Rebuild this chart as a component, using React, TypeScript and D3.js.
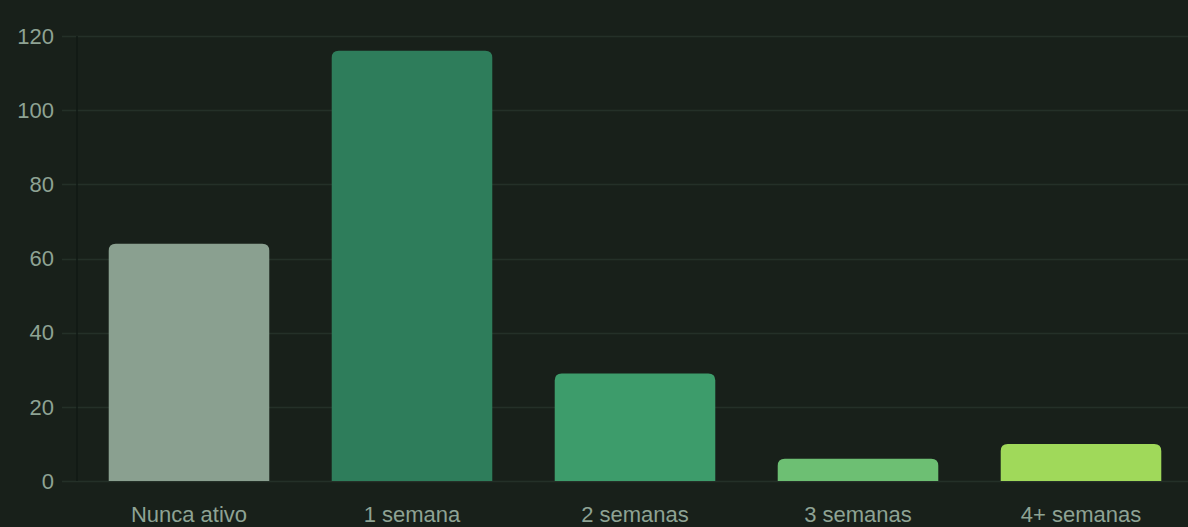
import React from "react";
import * as d3 from "d3";

const width = 1188;
const height = 527;
const margin = { top: 36, left: 77, bottom: 46 };

const categories = ["Nunca ativo", "1 semana", "2 semanas", "3 semanas", "4+ semanas"];
const counts = [64, 116, 29, 6, 10];
const barColors = ["#8aa090", "#2e7d5b", "#3d9c6b", "#6dbf73", "#a0d95a"];
const yTicks = [0, 20, 40, 60, 80, 100, 120];

const bg = "#18201a";
const textColor = "#8ea394";
const gridColor = "#243028";

// top-rounded bar path
function barPath(x: number, y: number, w: number, h: number, r: number) {
  const rr = Math.min(r, h, w / 2);
  return `M${x},${y + h}V${y + rr}Q${x},${y} ${x + rr},${y}H${x + w - rr}Q${x + w},${y} ${x + w},${y + rr}V${y + h}Z`;
}

export default function App() {
  const yScale = d3
    .scaleLinear()
    .domain([0, 120])
    .range([height - margin.bottom, margin.top]);

  const xScale = d3
    .scaleBand()
    .domain(categories)
    .range([margin.left + 0.5, 1192.5])
    .paddingInner(0.28)
    .paddingOuter(0.14);

  const y0 = yScale(0);

  return (
    <div style={{ position: "fixed", left: 0, top: 0, width, height, background: bg }}>
      <svg width={width} height={height} style={{ display: "block" }}>
        <rect width={width} height={height} fill={bg} />
        <g id="grid">
          {yTicks.map((t) => (
            <line
              key={t}
              x1={62}
              x2={width}
              y1={Math.round(yScale(t)) + 0.5}
              y2={Math.round(yScale(t)) + 0.5}
              stroke={gridColor}
              strokeWidth={1.5}
            />
          ))}
          <line x1={margin.left} x2={margin.left} y1={margin.top} y2={y0} stroke="#111914" strokeWidth={1.5} />
        </g>
        <g id="bars">
          {categories.map((c, i) => {
            const x = xScale(c) ?? 0;
            const yTop = yScale(counts[i]);
            return (
              <path
                key={c}
                d={barPath(x, yTop, xScale.bandwidth(), y0 - yTop, 7)}
                fill={barColors[i]}
              />
            );
          })}
        </g>
        <g
          id="y-labels"
          fontFamily="'Liberation Sans', Arial, sans-serif"
          fontSize={22}
          fill={textColor}
          textAnchor="end"
        >
          {yTicks.map((t) => (
            <text key={t} x={54} y={yScale(t)} dy="0.35em">
              {t}
            </text>
          ))}
        </g>
        <g
          id="x-labels"
          fontFamily="'Liberation Sans', Arial, sans-serif"
          fontSize={22}
          fill={textColor}
          textAnchor="middle"
        >
          {categories.map((c) => (
            <text key={c} x={(xScale(c) ?? 0) + xScale.bandwidth() / 2} y={522}>
              {c}
            </text>
          ))}
        </g>
      </svg>
    </div>
  );
}
